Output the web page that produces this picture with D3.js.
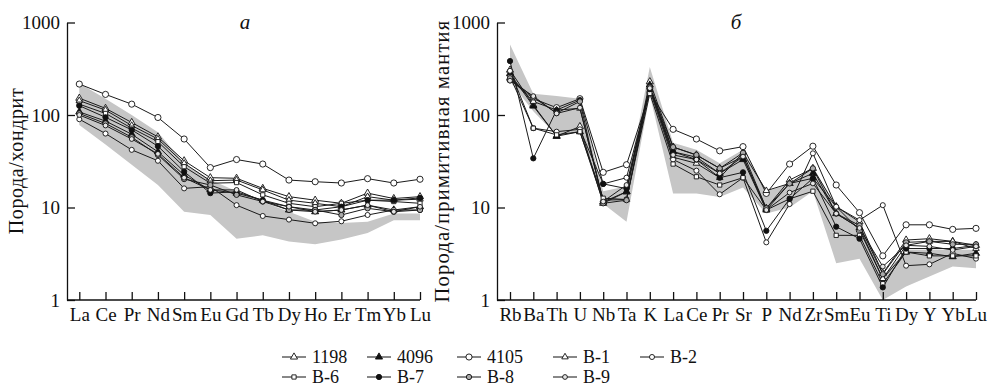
<html>
<head>
<meta charset="utf-8">
<style>
    body { margin: 0; background: #fff; }
    svg text { font-family: "Liberation Serif", "Times New Roman", serif; fill: #111; }
    .band { fill: #c6c6c6; stroke: none; }
    .serie { fill: none; stroke: #1a1a1a; stroke-width: 1; stroke-linejoin: round; }
    .axis path, .axis line, .base { stroke: #111; stroke-width: 1.3; fill: none; }
</style>
<script src="https://d3js.org/d3.v7.min.js"></script>
</head>
<body>
<div id="chart"></div>
<script>

// categories
var reeElements = ["La","Ce","Pr","Nd","Sm","Eu","Gd","Tb","Dy","Ho","Er","Tm","Yb","Lu"];
var spiderElements = ["Rb","Ba","Th","U","Nb","Ta","K","La","Ce","Pr","Sr","P","Nd","Zr","Sm","Eu","Ti","Dy","Y","Yb","Lu"];
var sampleNames = ["1198","4096","4105","B-1","B-2","B-6","B-7","B-8","B-9"];
var yTicks = [1, 10, 100, 1000];

// порода/хондрит
var ree1198 = [152,118,83,58,32,21,20.7,16.1,13.1,12,11.1,14.3,12.5,13.1];
var ree4096 = [108,86,62,40,22.4,15.5,14.3,12,9.4,9.0,9.4,10.6,9.4,10.2];
var ree4105 = [216,167,131,94,55,27,33,29.5,19.8,19,18.4,20.5,18.4,20.2];
var reeB1 = [143,113,77,55,30,19.5,19.8,15.5,12,11.1,10.2,13.1,12,12.3];
var reeB2 = [90,63,42,32,16.1,16.8,10.6,8.1,7.4,6.75,7.1,8.3,9.4,9.4];
var reeB6 = [131,104,72,51.5,27.6,18.3,18.6,13.7,11.1,10.2,11.1,12,11.6,11.1];
var reeB7 = [126,94.5,69,46,24.4,14.3,14.8,12,10.2,9.4,10.2,12,12,12.7];
var reeB8 = [104,81,57.5,37,20.3,17.5,13.7,11.6,9.4,9.4,8.3,9.8,9.0,9.4];
var reeB9 = [100,77,55,38,21,15.5,15.5,11.6,10.2,9.0,9.4,10.6,9.0,10.2];
var reeBandTop = [220,150,100,65,30,20,15,11.5,9,7,6.8,7,8.6,8.6];
var reeBandBottom = [78,48,29,17.5,9.0,8.3,4.6,5.0,4.3,4.0,4.5,5.3,7.3,7.3];

// порода/примитивная мантия
var spider1198 = [306,128,59,75,11.1,14.8,229,45,37,26.5,35.5,9.8,19.8,26.5,10.2,7.0,1.94,4.45,4.6,4.3,3.9];
var spider4096 = [280,125,59,66,11.5,14.8,211,40,35,23.4,33,9.4,18.2,23.4,8.6,6.0,1.7,3.3,3.2,2.94,3.2];
var spider4105 = [240,150,120,150,24,29,175,70,55,41,45.5,14.2,29.5,46,17.5,8.8,3.0,6.5,6.5,5.8,5.95];
var spiderB1 = [250,140,113,118,12,12.2,200,35,30,21,39,15.2,18.2,20.7,10.2,5.7,1.7,3.9,4.3,4.3,3.6];
var spiderB2 = [300,72,66,70,18,21,186,33,25,13.9,21,4.2,10.9,38.5,10.2,7.3,10.6,2.35,2.43,3.2,2.8];
var spiderB6 = [260,72,61,66,12.6,12.2,171,29.5,21.5,17.5,21,9.4,12.4,15,5.0,5.0,1.5,3.3,3.0,3.0,3.0];
var spiderB7 = [383,34,113,145,18,16,190,40,33,21,24,5.6,12.4,20.7,6.2,4.6,1.37,3.6,3.6,3.6,3.9];
var spiderB8 = [250,155,105,140,11.1,12,200,45,37,26.5,39,9.8,18.2,26.5,8.6,6.4,1.9,4.2,4.3,4.0,4.0];
var spiderB9 = [235,160,104,120,11.6,17.5,195,37,33,23.4,35.5,9.4,14.5,18.2,8.6,6.0,2.3,3.9,3.8,3.47,3.8];
var spiderBandTop = [580,170,160,150,15,17,330,50,42,30,42,15,18,28,10,7,1.8,3.5,3.5,3.5,3.5];
var spiderBandBottom = [230,110,60,65,11,7,165,14.2,14.2,13,16.5,8.6,10,15,2.5,2.8,1.0,1.4,1.8,2.3,2.2];

var reeSeries = [ree1198, ree4096, ree4105, reeB1, reeB2, reeB6, reeB7, reeB8, reeB9];
var spiderSeries = [spider1198, spider4096, spider4105, spiderB1, spiderB2, spiderB6, spiderB7, spiderB8, spiderB9];

// marker for each sample, same order as sampleNames
var markers = [
    {type: d3.symbolTriangle, size: 22, fill: "#fff"},
    {type: d3.symbolTriangle, size: 22, fill: "#111"},
    {type: d3.symbolCircle, size: 30, fill: "#fff"},
    {type: d3.symbolTriangle, size: 18, fill: "#fff"},
    {type: d3.symbolCircle, size: 20, fill: "#fff"},
    {type: d3.symbolSquare, size: 18, fill: "#fff"},
    {type: d3.symbolCircle, size: 22, fill: "#111"},
    {type: d3.symbolCircle, size: 22, fill: "#aaa"},
    {type: d3.symbolCircle, size: 18, fill: "#e4e4e4"}
];

var width = 988, height = 387;
var fontSize = 19;

var svg = d3.select("#chart").append("svg")
    .attr("width", width)
    .attr("height", height);

var y = d3.scaleLog()
    .domain([1, 1000])
    .range([300, 22.5]);

function drawPanel(opt) {
    var x = d3.scalePoint()
        .domain(opt.elements)
        .range(opt.range);

    var g = svg.append("g");

    // shaded field
    var area = d3.area()
        .x(function (d, i) { return x(opt.elements[i]); })
        .y0(function (d, i) { return y(opt.bottom[i]); })
        .y1(function (d) { return y(d); });
    g.append("path")
        .attr("class", "band")
        .attr("d", area(opt.top));

    var line = d3.line()
        .x(function (d, i) { return x(opt.elements[i]); })
        .y(function (d) { return y(d); });

    opt.series.forEach(function (s) {
        g.append("path")
            .attr("class", "serie")
            .attr("d", line(s));
    });

    opt.series.forEach(function (s, k) {
        g.selectAll(null)
            .data(s)
            .enter()
            .append("path")
            .attr("transform", function (d, i) {
                return "translate(" + x(opt.elements[i]) + "," + y(d) + ")";
            })
            .attr("d", d3.symbol().type(markers[k].type).size(markers[k].size))
            .attr("fill", markers[k].fill)
            .attr("stroke", "#111")
            .attr("stroke-width", 0.9);
    });

    // y axis, ticks inside
    var yAxis = g.append("g")
        .attr("class", "axis")
        .attr("transform", "translate(" + opt.axisX + ",0)")
        .call(d3.axisLeft(y)
            .tickValues(yTicks)
            .tickSizeInner(-8)
            .tickSizeOuter(0)
            .tickPadding(7)
            .tickFormat(d3.format("d")));
    yAxis.selectAll("text")
        .style("font-size", fontSize + "px");

    // x axis
    var xAxis = g.append("g")
        .attr("class", "axis")
        .attr("transform", "translate(0,300)")
        .call(d3.axisBottom(x)
            .tickSizeInner(-8)
            .tickSizeOuter(0)
            .tickPadding(7.5));
    xAxis.select(".domain").remove();
    xAxis.selectAll("text")
        .style("font-size", fontSize + "px");

    g.append("line")
        .attr("class", "base")
        .attr("x1", opt.axisX)
        .attr("x2", opt.range[1])
        .attr("y1", 300)
        .attr("y2", 300);

    g.append("text")
        .attr("transform", "translate(" + opt.titleX + ",161) rotate(-90)")
        .attr("text-anchor", "middle")
        .style("font-size", opt.titleSize + "px")
        .style("letter-spacing", opt.titleSpacing + "px")
        .text(opt.title);

    g.append("text")
        .attr("x", opt.letterX)
        .attr("y", 29)
        .attr("text-anchor", "middle")
        .style("font-size", "21px")
        .style("font-style", "italic")
        .text(opt.letter);
}

drawPanel({
    elements: reeElements, series: reeSeries,
    top: reeBandTop, bottom: reeBandBottom,
    range: [79.3, 420], axisX: 67,
    title: "Порода/хондрит", titleX: 23, titleSize: 20, titleSpacing: 0.6,
    letter: "а", letterX: 245
});

drawPanel({
    elements: spiderElements, series: spiderSeries,
    top: spiderBandTop, bottom: spiderBandBottom,
    range: [510, 976], axisX: 497,
    title: "Порода/примитивная мантия", titleX: 449, titleSize: 20.5, titleSpacing: 1.2,
    letter: "б", letterX: 736
});

// legend
var legendCols = [282, 367, 457, 553, 640];
var legend = svg.append("g")
    .selectAll("g")
    .data(sampleNames)
    .enter()
    .append("g")
    .attr("transform", function (d, i) {
        var row = i < 5 ? 0 : 1;
        var col = i < 5 ? i : i - 5;
        return "translate(" + legendCols[col] + "," + (row === 0 ? 357 : 377) + ")";
    });

legend.append("line")
    .attr("x1", 0).attr("x2", 24)
    .attr("stroke", "#111")
    .attr("stroke-width", 1);

legend.append("path")
    .attr("transform", "translate(12,0)")
    .attr("d", function (d, i) { return d3.symbol().type(markers[i].type).size(markers[i].size)(); })
    .attr("fill", function (d, i) { return markers[i].fill; })
    .attr("stroke", "#111")
    .attr("stroke-width", 0.9);

legend.append("text")
    .attr("x", 30)
    .attr("y", 6)
    .style("font-size", "18px")
    .text(function (d) { return d; });

</script>
</body>
</html>
